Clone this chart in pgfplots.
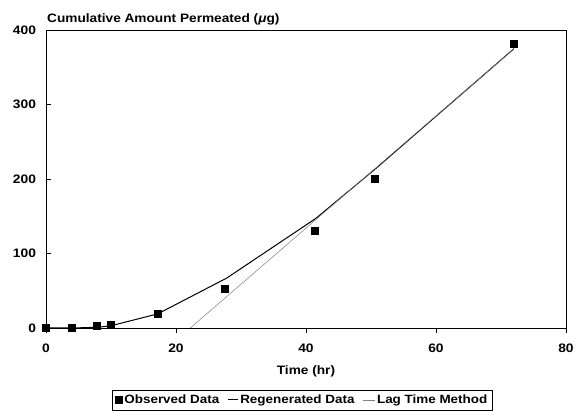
\documentclass[border=0pt]{standalone}
\usepackage{pgfplots}
\pgfplotsset{compat=1.18}
\usepackage{fontspec}
\setmainfont{Liberation Sans}[FakeStretch=1.12]
\pgfplotsset{
  shortA/.style={legend image code/.code={\draw[##1] (0pt,0pt) -- (10pt,0pt);}},
  shortB/.style={legend image code/.code={\draw[##1] (0pt,0pt) -- (12pt,0pt);}},
}
\begin{document}
\begin{tikzpicture}
\path (-46pt,-83pt) rectangle (535pt,328pt);
\begin{axis}[
  at={(0,0)}, anchor=south west,
  width=520pt, height=298pt, scale only axis,
  xmin=0, xmax=80, ymin=0, ymax=400,
  xtick={0,20,40,60,80}, ytick={0,100,200,300,400},
  xtick align=outside, ytick align=inside, major tick length=5pt,
  xtick pos=bottom, ytick pos=left,
  axis line style={line width=0.9pt},
  tick style={line width=0.8pt, black},
  /pgf/number format/assume math mode=true,
  ticklabel style={font=\fontsize{12.3}{14}\selectfont\bfseries},
  xticklabel style={yshift=-7pt},
  yticklabel style={xshift=-6.5pt},
  xlabel={Time (hr)},
  xlabel style={font=\fontsize{12.2}{14}\selectfont\bfseries, yshift=-7pt},
  clip=false,
  legend columns=3,
  legend style={at={(0.493,-0.2416)}, anchor=center, draw=black, line width=0.6pt,
    font=\fontsize{12}{14}\selectfont\bfseries, inner xsep=3pt, inner ysep=3pt,
    /tikz/every even column/.append style={column sep=6pt}},
  legend cell align=left,
]
\addplot[only marks, mark=square*, mark size=3.5pt, black] coordinates {
(0,0) (4,0) (7.8,3) (10,5) (17.2,19) (27.5,53) (41.4,131) (50.6,200) (72,382)};
\addlegendentry{Observed Data}
\addplot[black, line width=1pt, mark=none, shortA] coordinates {
(0,0) (4,0) (8,1) (10,3) (17.2,19) (27.8,67) (41.5,147) (50.6,213) (72,375)};
\addlegendentry{Regenerated Data}
\addplot[gray, line width=0.5pt, mark=none, shortB] coordinates {(22.2,0) (72,375)};
\addlegendentry{Lag Time Method}
\end{axis}
\node[anchor=base west, inner sep=0pt, font=\fontsize{12.2}{14}\selectfont\bfseries] at (1pt,305pt) {Cumulative Amount Permeated (\textit{μ}g)};
\end{tikzpicture}
\end{document}
